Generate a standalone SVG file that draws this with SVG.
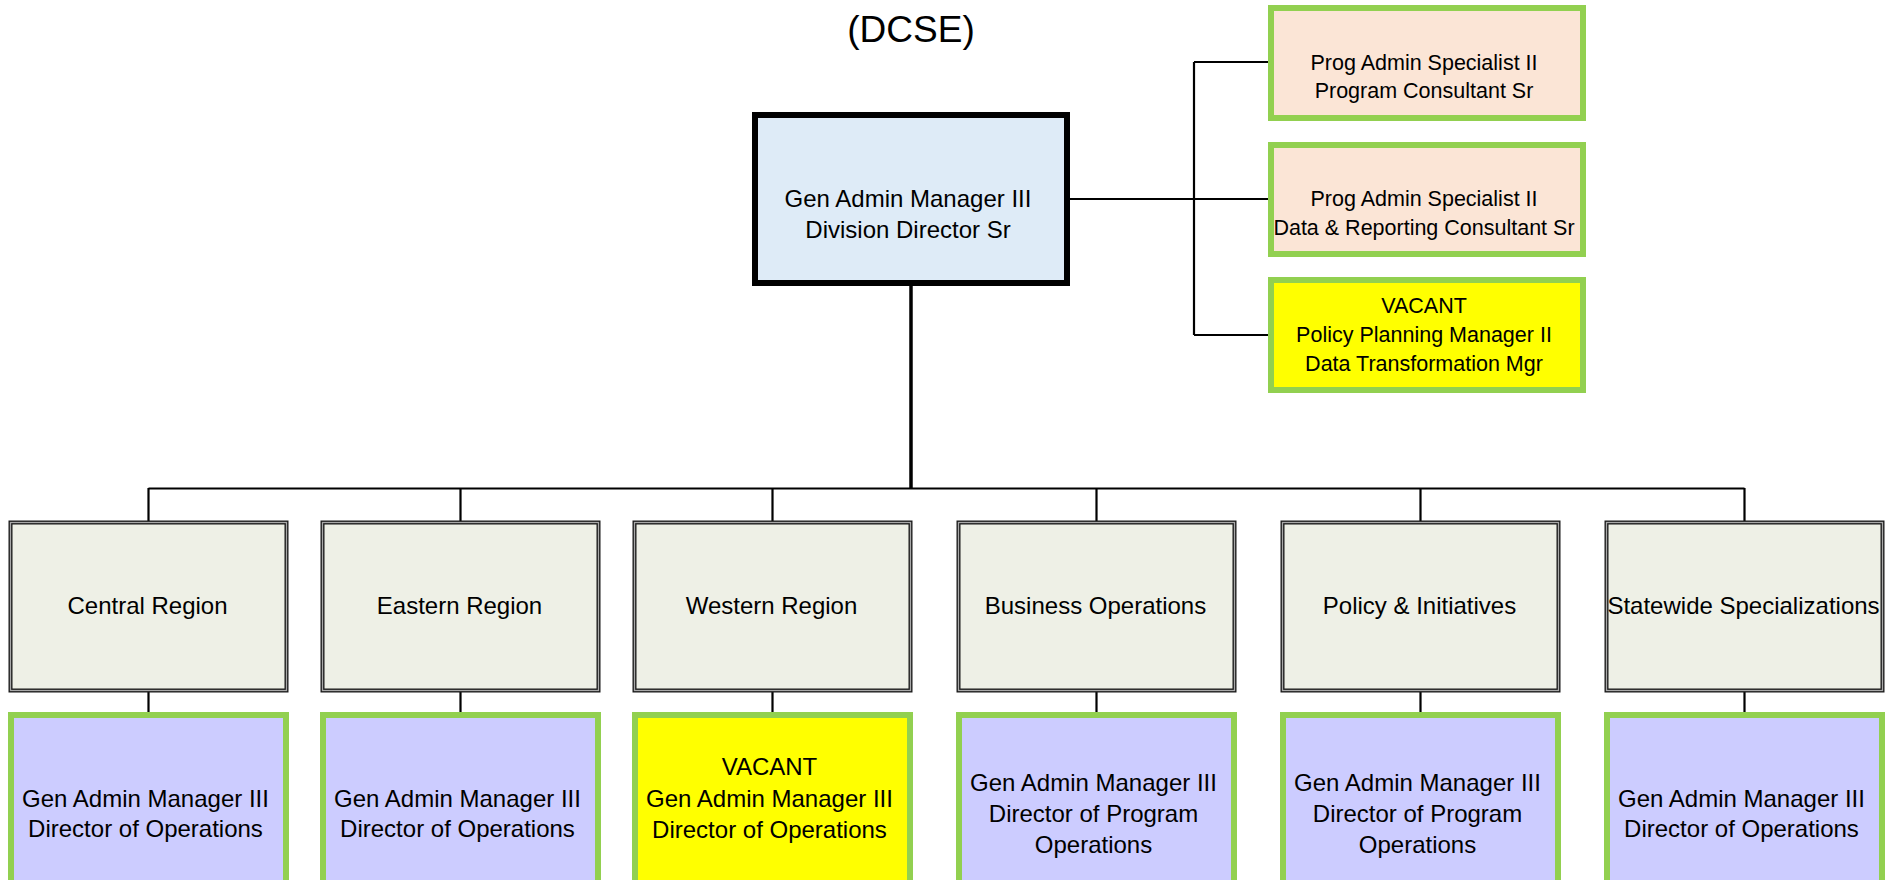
<svg xmlns="http://www.w3.org/2000/svg" width="1900" height="880" viewBox="0 0 1900 880">
<style>
text{font-family:"Liberation Sans",Arial,sans-serif;fill:#000;text-anchor:middle}
.t{font-size:24px}
.s{font-size:21.5px}
.title{font-size:37px}
.top{fill:#DEEBF7;stroke:#000;stroke-width:6}
.peach{fill:#FBE5D6;stroke:#92D050;stroke-width:6}
.vac{fill:#FFFF00;stroke:#92D050;stroke-width:6}
.dir{fill:#CCCCFF;stroke:#92D050;stroke-width:6}
.grp{fill:#EEF0E6;stroke:#1a1a1a;stroke-width:4}
.grpin{fill:none;stroke:#a8a8a8;stroke-width:1.3}
.ln{fill:none;stroke:#000;stroke-width:2.2}
.thick{fill:none;stroke:#000;stroke-width:3.5}
</style>
<rect width="1900" height="880" fill="#fff"/>
<text class="title" x="911" y="42">(DCSE)</text>
<g id="connectors">
<path class="thick" d="M911 286V489"/>
<path class="ln" d="M148.5 488.5H1744.5"/>
<path class="ln" d="M148.5 488V521M460.5 488V521M772.5 488V521M1096.5 488V521M1420.5 488V521M1744.5 488V521"/>
<path class="ln" d="M148.5 692V712M460.5 692V712M772.5 692V712M1096.5 692V712M1420.5 692V712M1744.5 692V712"/>
<path class="ln" d="M1070 199H1268M1194 62V335M1194 62H1268M1194 335H1268"/>
</g>
<g id="director">
<rect class="top" x="755" y="115" width="312" height="168"/>
<text class="t" x="908" y="207">Gen Admin Manager III</text>
<text class="t" x="908" y="238">Division Director Sr</text>
</g>
<g id="staff1">
<rect class="peach" x="1271" y="8" width="312" height="110"/>
<text class="s" x="1424" y="70">Prog Admin Specialist II</text>
<text class="s" x="1424" y="98">Program Consultant Sr</text>
</g>
<g id="staff2">
<rect class="peach" x="1271" y="145" width="312" height="109"/>
<text class="s" x="1424" y="206">Prog Admin Specialist II</text>
<text class="s" x="1424" y="235">Data &amp; Reporting Consultant Sr</text>
</g>
<g id="staff3">
<rect class="vac" x="1271" y="280" width="312" height="110"/>
<text class="s" x="1424" y="313">VACANT</text>
<text class="s" x="1424" y="342">Policy Planning Manager II</text>
<text class="s" x="1424" y="371">Data Transformation Mgr</text>
</g>
<g id="central">
<rect class="grp" x="10.5" y="522.5" width="276" height="168"/>
<rect class="grpin" x="10.5" y="522.5" width="276" height="168"/>
<text class="t" x="147.5" y="614">Central Region</text>
</g>
<g id="eastern">
<rect class="grp" x="322.5" y="522.5" width="276" height="168"/>
<rect class="grpin" x="322.5" y="522.5" width="276" height="168"/>
<text class="t" x="459.5" y="614">Eastern Region</text>
</g>
<g id="western">
<rect class="grp" x="634.5" y="522.5" width="276" height="168"/>
<rect class="grpin" x="634.5" y="522.5" width="276" height="168"/>
<text class="t" x="771.5" y="614">Western Region</text>
</g>
<g id="business">
<rect class="grp" x="958.5" y="522.5" width="276" height="168"/>
<rect class="grpin" x="958.5" y="522.5" width="276" height="168"/>
<text class="t" x="1095.5" y="614">Business Operations</text>
</g>
<g id="policy">
<rect class="grp" x="1282.5" y="522.5" width="276" height="168"/>
<rect class="grpin" x="1282.5" y="522.5" width="276" height="168"/>
<text class="t" x="1419.5" y="614">Policy &amp; Initiatives</text>
</g>
<g id="statewide">
<rect class="grp" x="1606.5" y="522.5" width="276" height="168"/>
<rect class="grpin" x="1606.5" y="522.5" width="276" height="168"/>
<text class="t" x="1743.5" y="614">Statewide Specializations</text>
</g>
<g id="central-dir">
<rect class="dir" x="11" y="715" width="275" height="200"/>
<text class="t" x="145.5" y="807">Gen Admin Manager III</text>
<text class="t" x="145.5" y="837">Director of Operations</text>
</g>
<g id="eastern-dir">
<rect class="dir" x="323" y="715" width="275" height="200"/>
<text class="t" x="457.5" y="807">Gen Admin Manager III</text>
<text class="t" x="457.5" y="837">Director of Operations</text>
</g>
<g id="western-dir">
<rect class="vac" x="635" y="715" width="275" height="200"/>
<text class="t" x="769.5" y="775">VACANT</text>
<text class="t" x="769.5" y="807">Gen Admin Manager III</text>
<text class="t" x="769.5" y="838">Director of Operations</text>
</g>
<g id="business-dir">
<rect class="dir" x="959" y="715" width="275" height="200"/>
<text class="t" x="1093.5" y="791">Gen Admin Manager III</text>
<text class="t" x="1093.5" y="822">Director of Program</text>
<text class="t" x="1093.5" y="853">Operations</text>
</g>
<g id="policy-dir">
<rect class="dir" x="1283" y="715" width="275" height="200"/>
<text class="t" x="1417.5" y="791">Gen Admin Manager III</text>
<text class="t" x="1417.5" y="822">Director of Program</text>
<text class="t" x="1417.5" y="853">Operations</text>
</g>
<g id="statewide-dir">
<rect class="dir" x="1607" y="715" width="275" height="200"/>
<text class="t" x="1741.5" y="807">Gen Admin Manager III</text>
<text class="t" x="1741.5" y="837">Director of Operations</text>
</g>
</svg>
